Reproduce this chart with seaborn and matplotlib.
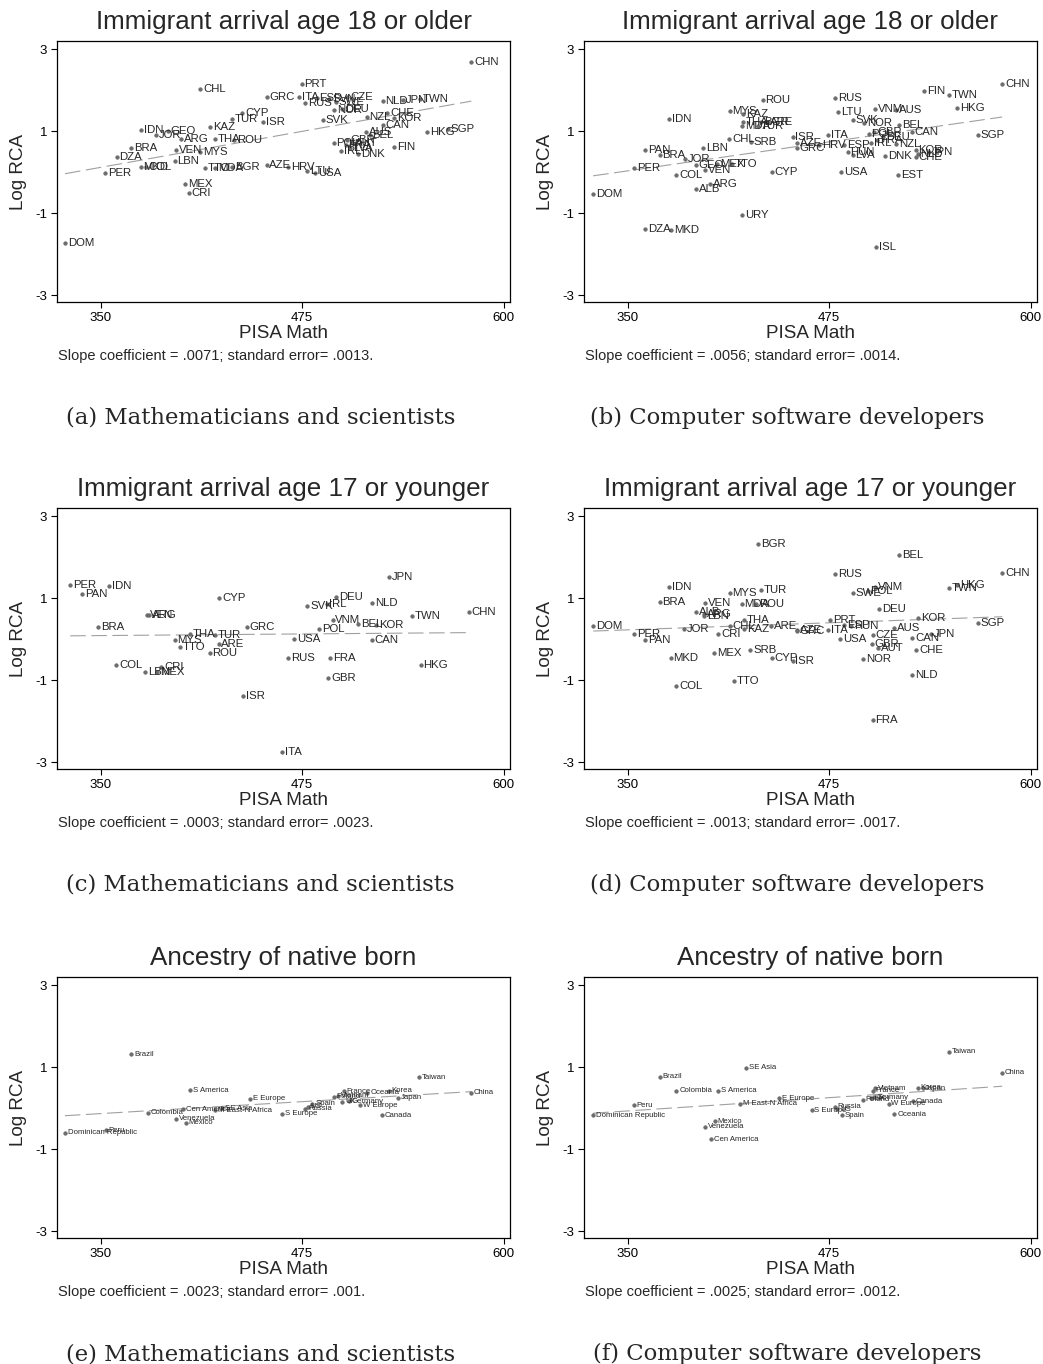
import numpy as np
import pandas as pd
import matplotlib
matplotlib.use("Agg")
import matplotlib.pyplot as plt
import seaborn as sns

# ---- data ------------------------------------------------------------------
titles = ["Immigrant arrival age 18 or older",
          "Immigrant arrival age 17 or younger",
          "Ancestry of native born"]
captions = ["(a) Mathematicians and scientists", "(b) Computer software developers",
            "(c) Mathematicians and scientists", "(d) Computer software developers",
            "(e) Mathematicians and scientists", "(f) Computer software developers"]
slopes = [".0071", ".0056", ".0003", ".0013", ".0023", ".0025"]
std_errs = [".0013", ".0014", ".0023", ".0017", ".001", ".0012"]

# (a) arrival 18+, mathematicians
a_lab = ["CHN", "PRT", "CHL", "GRC", "ITA", "RUS", "ESP", "SVN", "SWE", "CZE", "NOR", "DEU",
         "SVK", "NZL", "NLD", "JPN", "TWN", "CHE", "KOR", "CAN", "AUS", "BEL", "HKG", "SGP",
         "FIN", "POL", "GBR", "FRA", "AUT", "LVA", "IRL", "DNK", "IDN", "GEO", "JOR", "ARG",
         "KAZ", "TUR", "CYP", "ISR", "THA", "ROU", "BRA", "DZA", "VEN", "MYS", "LBN", "MKD",
         "COL", "PER", "TTO", "MDA", "BGR", "AZE", "HRV", "LTU", "USA", "MEX", "CRI", "DOM"]
a_pisa = [580, 474.8, 412, 453.3, 473.4, 477, 484, 492, 496, 503, 495, 500,
          488, 515, 525, 537.7, 548, 528, 532, 525, 514.6, 517, 552.8, 565.6,
          532, 494.6, 503, 502, 506, 505, 499, 510, 375, 391.6, 384.4, 400,
          418, 431.5, 438, 451, 421, 433, 369, 360, 397, 412, 396, 375,
          378, 352.7, 415, 421, 431.5, 453, 466.5, 478, 483, 402.6, 404.6, 328]
a_rca = [2.68, 2.15, 2.02, 1.84, 1.84, 1.69, 1.80, 1.78, 1.70, 1.84, 1.51, 1.55,
         1.27, 1.35, 1.73, 1.77, 1.79, 1.45, 1.31, 1.15, 0.98, 0.90, 0.98, 1.06,
         0.62, 0.70, 0.78, 0.65, 0.72, 0.60, 0.52, 0.43, 1.04, 1.00, 0.90, 0.80,
         1.09, 1.29, 1.45, 1.23, 0.80, 0.78, 0.58, 0.37, 0.54, 0.50, 0.26, 0.13,
         0.13, -0.01, 0.09, 0.09, 0.13, 0.17, 0.12, 0.02, -0.02, -0.30, -0.52, -1.74]

# (b) arrival 18+, software developers
b_lab = ["CHN", "FIN", "TWN", "HKG", "SGP", "ROU", "RUS", "MYS", "KAZ", "THA", "MDA", "BGR",
         "ARE", "TUR", "IDN", "LTU", "VNM", "AUS", "SVK", "NOR", "BEL", "CAN", "ITA", "IRL",
         "NZL", "DEU", "POL", "GBR", "FRA", "KOR", "CHE", "JPN", "NLD", "DNK", "HUN", "LVA",
         "ESP", "HRV", "AZE", "GRC", "ISR", "CHL", "SRB", "LBN", "PAN", "BRA", "JOR", "GEO",
         "MEX", "TTO", "VEN", "PER", "COL", "CYP", "USA", "EST", "ARG", "ALB", "DOM", "URY",
         "DZA", "MKD", "ISL"]
b_pisa = [582.4, 533.9, 549.4, 554.4, 567.5, 433.8, 478.7, 413.4, 421.7, 421.7, 421, 432.7,
          436.9, 430.7, 375.7, 480.8, 503.6, 516.7, 489.7, 496.6, 518.7, 526.4, 474.6, 501,
          516.7, 508.4, 499.5, 503, 505, 528.7, 529, 537, 530, 509.8, 486.6, 489.7,
          484.5, 469, 455, 455, 452.4, 413.2, 426.5, 397, 360.8, 369.9, 385.4, 392.3,
          405.8, 415, 397.9, 354, 380.3, 439.6, 482.5, 518, 401.2, 392.3, 328.7, 421.3,
          360.8, 377.2, 504.4]
b_rca = [2.16, 1.98, 1.88, 1.57, 0.90, 1.77, 1.82, 1.50, 1.41, 1.23, 1.12, 1.23,
         1.23, 1.12, 1.29, 1.46, 1.53, 1.51, 1.27, 1.19, 1.16, 0.98, 0.90, 0.70,
         0.68, 0.86, 0.94, 0.98, 0.78, 0.54, 0.37, 0.50, 0.45, 0.39, 0.50, 0.41,
         0.66, 0.66, 0.72, 0.58, 0.86, 0.80, 0.74, 0.60, 0.54, 0.41, 0.31, 0.17,
         0.20, 0.20, 0.05, 0.11, -0.07, 0.01, 0.01, -0.06, -0.28, -0.40, -0.54, -1.05,
         -1.39, -1.41, -1.82]

# (c) arrival 17-, mathematicians
c_lab = ["PER", "IDN", "PAN", "CYP", "VEN", "ARG", "BRA", "THA", "TUR", "MYS", "ARE", "TTO",
         "ROU", "GRC", "USA", "SVK", "IRL", "DEU", "NLD", "JPN", "VNM", "POL", "BEL", "KOR",
         "TWN", "CHN", "CAN", "RUS", "FRA", "HKG", "GBR", "COL", "LBN", "MEX", "CRI", "ISR",
         "ITA"]
c_pisa = [331.2, 355.2, 338.7, 423.8, 379, 380, 348.6, 405.7, 420.7, 396, 423.2, 399,
          417.6, 440.8, 470.3, 478.3, 490.3, 496, 518.7, 528.8, 494, 485.5, 509.8, 520.8,
          543, 578.3, 518.1, 466.5, 492.3, 548.6, 491.3, 359.7, 377.8, 385, 387.8, 438.3,
          462.4]
c_rca = [1.32, 1.30, 1.09, 1.00, 0.60, 0.60, 0.30, 0.13, 0.09, -0.01, -0.11, -0.19,
         -0.33, 0.30, 0.01, 0.82, 0.86, 1.02, 0.89, 1.52, 0.47, 0.25, 0.36, 0.34,
         0.57, 0.67, -0.01, -0.47, -0.45, -0.62, -0.96, -0.63, -0.81, -0.80, -0.67, -1.38,
         -2.75]

# (d) arrival 17-, software developers
d_lab = ["BGR", "BEL", "RUS", "CHN", "HKG", "TWN", "IDN", "MYS", "TUR", "VNM", "SWE", "POL",
         "BRA", "VEN", "MDA", "ROU", "DEU", "ALB", "ARG", "LBN", "THA", "CHL", "KAZ", "CRI",
         "ARE", "AZE", "GRC", "PRT", "ITA", "ESP", "HUN", "USA", "AUS", "KOR", "SGP", "CZE",
         "GBR", "AUT", "CAN", "JPN", "CHE", "NOR", "NLD", "FRA", "DOM", "JOR", "PER", "PAN",
         "MKD", "MEX", "SRB", "CYP", "ISR", "COL", "TTO"]
d_pisa = [431, 518.7, 478.7, 582.4, 554.6, 549.2, 375.9, 413.4, 432.9, 503.6, 489.7, 499,
          369.9, 397.9, 420.9, 429.6, 505.9, 392.3, 397.5, 397.5, 422, 413.4, 422.3, 406.2,
          438.9, 455.1, 455.1, 475.8, 474.6, 484.5, 488.7, 482, 515.6, 530.2, 567.5, 502.1,
          501.5, 505.3, 526.6, 538, 529.1, 496.3, 526.6, 502.1, 328.7, 385, 354, 360.8,
          376.7, 403.7, 426.1, 439.4, 452.4, 380.3, 416.1]
d_rca = [2.32, 2.05, 1.59, 1.61, 1.32, 1.24, 1.27, 1.12, 1.20, 1.27, 1.12, 1.17,
         0.90, 0.89, 0.86, 0.86, 0.74, 0.66, 0.62, 0.56, 0.46, 0.31, 0.25, 0.13,
         0.31, 0.23, 0.19, 0.46, 0.23, 0.34, 0.32, 0.01, 0.28, 0.52, 0.40, 0.09,
         -0.13, -0.21, 0.03, 0.12, -0.27, -0.49, -0.88, -1.97, 0.32, 0.25, 0.13, -0.03,
         -0.46, -0.35, -0.27, -0.47, -0.53, -1.15, -1.02]

# (e) ancestry, mathematicians
e_lab = ["Brazil", "S America", "E Europe", "Colombia", "Cen America", "M East-N Africa",
         "SE Asia", "Venezuela", "Mexico", "Dominican Republic", "Peru", "S Europe", "Russia",
         "US", "Spain", "Poland", "Vietnam", "France", "UK", "Germany", "Oceania", "Korea",
         "Japan", "W Europe", "Canada", "Taiwan", "China"]
e_pisa = [369.2, 405.7, 442.8, 379.3, 401.2, 421.2, 425.3, 396.8, 403, 327.9, 353.1, 462.8,
          476.9, 478.5, 481.4, 494.6, 497.6, 500.8, 499.9, 504.3, 515.6, 529, 534.6, 510.9,
          524.7, 547.6, 580]
e_rca = [1.32, 0.43, 0.23, -0.11, -0.03, -0.05, 0.00, -0.26, -0.36, -0.60, -0.54, -0.14,
         -0.01, 0.03, 0.11, 0.28, 0.30, 0.41, 0.16, 0.17, 0.38, 0.42, 0.25, 0.07,
         -0.18, 0.75, 0.38]

# (f) ancestry, software developers
f_lab = ["Taiwan", "China", "SE Asia", "Brazil", "Colombia", "S America", "E Europe",
         "M East-N Africa", "Peru", "Dominican Republic", "Mexico", "Venezuela", "Cen America",
         "S Europe", "Russia", "US", "Spain", "Poland", "France", "Vietnam", "UK", "Germany",
         "W Europe", "Canada", "Oceania", "Korea", "Japan"]
f_pisa = [549.2, 582.4, 423.4, 369.9, 380.3, 406.4, 444.1, 419.7, 354, 328.7, 404.1, 397.9,
          402, 464.2, 478.7, 480, 482.9, 496, 502.2, 503.6, 501.1, 503, 511.9, 527, 515.6,
          530.2, 533]
f_rca = [1.38, 0.86, 0.98, 0.77, 0.42, 0.42, 0.24, 0.11, 0.07, -0.18, -0.32, -0.46,
         -0.76, -0.05, 0.03, -0.03, -0.18, 0.21, 0.42, 0.48, 0.24, 0.26, 0.11, 0.17, -0.15,
         0.50, 0.48]

panels = [(a_lab, a_pisa, a_rca), (b_lab, b_pisa, b_rca),
          (c_lab, c_pisa, c_rca), (d_lab, d_pisa, d_rca),
          (e_lab, e_pisa, e_rca), (f_lab, f_pisa, f_rca)]

# ---- layout (pixels) -------------------------------------------------------
W, H = 1043, 1364
col_left = [57, 584]
ax_w = 453
row_top = [41, 508, 977]
ax_h = 261

sns.set_theme(style="white")
plt.rcParams["font.family"] = ["Liberation Sans", "DejaVu Sans"]
plt.rcParams["axes.unicode_minus"] = False

fig = plt.figure(figsize=(W / 100, H / 100), dpi=100)


def fx(px):
    return px / W


def fy(py):
    return 1 - py / H


for i, (lab, pisa, rca) in enumerate(panels):
    r, c = divmod(i, 2)
    left, top = col_left[c], row_top[r]
    ax = fig.add_axes([fx(left), fy(top + ax_h), ax_w / W, ax_h / H])
    df = pd.DataFrame({"label": lab, "pisa": pisa, "rca": rca})

    # fitted line + labelled points
    sns.regplot(data=df, x="pisa", y="rca", scatter=False, ci=None, ax=ax,
                line_kws=dict(color="#a0a0a0", lw=0.8, ls=(0, (14, 5))))
    sns.scatterplot(data=df, x="pisa", y="rca", ax=ax, s=7, color="#6e6e6e",
                    edgecolor="#555555", linewidth=0.3, zorder=3)
    fs = 8.2 if r < 2 else 5.6
    for _, row in df.iterrows():
        ax.annotate(row["label"], (row["pisa"], row["rca"]), xytext=(2.0, 0),
                    textcoords="offset points", ha="left", va="center",
                    fontsize=fs, color="#262626")

    ax.set_xlim(323, 604)
    ax.set_ylim(-3.17, 3.2)
    ax.set_xticks([350, 475, 600])
    ax.set_yticks([3, 1, -1, -3])
    ax.tick_params(axis="both", direction="out", length=4, width=0.8,
                   labelsize=9.5, colors="black", left=True, bottom=True, pad=3)
    for sp in ax.spines.values():
        sp.set_color("black")
        sp.set_linewidth(0.9)
    ax.set_xlabel("PISA Math", fontsize=13.6)
    ax.set_ylabel("Log RCA", fontsize=13.6)
    ax.xaxis.set_label_coords(0.5, -0.09)
    ax.yaxis.set_label_coords(-0.067, 0.5)
    ax.set_title(titles[r], fontsize=18.7, pad=8.5)

    bottom = top + ax_h
    fig.text(fx(left + 1), fy(bottom + 54),
             f"Slope coefficient = {slopes[i]}; standard error= {std_errs[i]}.",
             fontsize=10.5, ha="left", va="center")
    fig.text(fx(left + ax_w / 2 - 23), fy(bottom + 116), captions[i],
             fontsize=16.4, ha="center", va="center",
             family=["DejaVu Serif", "Liberation Serif"])

fig.savefig("out.png", dpi=100)
